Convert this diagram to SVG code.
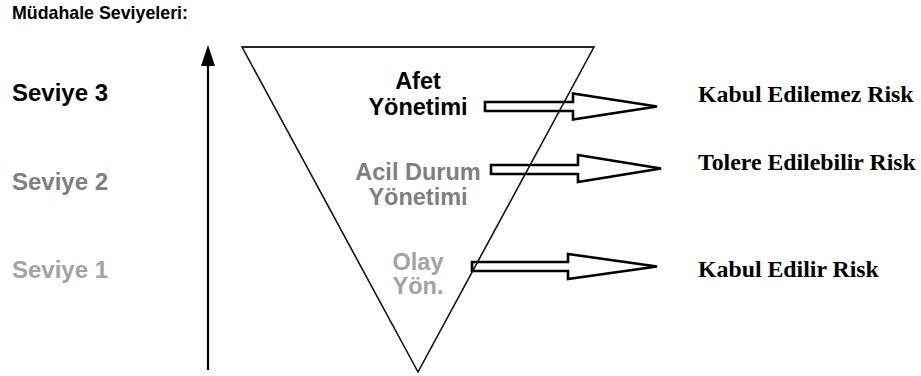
<svg xmlns="http://www.w3.org/2000/svg" width="921" height="376" viewBox="0 0 921 376">
<style>
.sans{font-family:"Liberation Sans",Arial,sans-serif;font-weight:bold}
.serif{font-family:"Liberation Serif","Times New Roman",serif;font-weight:bold;font-size:23.8px;fill:#000}
.lvl{font-size:24px}
.mid{font-size:23.5px;text-anchor:middle}
.c3{fill:#000}
.c2{fill:#7f7f7f}
.c1{fill:#a3a3a3}
.block{fill:none;stroke:#000;stroke-width:2.6;stroke-linejoin:miter}
.tri{fill:#fff;stroke:#1a1a1a;stroke-width:1.3}
</style>
<rect width="921" height="376" fill="#fff"/>
<g id="title"><text class="sans c3" x="12" y="18.5" font-size="17.8">Müdahale Seviyeleri:</text></g>
<g id="triangle"><polygon class="tri" points="242,47 594,47 418,372"/></g>
<g id="levels">
<text class="sans lvl c3" x="12" y="100.5">Seviye 3</text>
<text class="sans lvl c2" x="12" y="190">Seviye 2</text>
<text class="sans lvl c1" x="12" y="278">Seviye 1</text>
</g>
<g id="node-afet"><text class="sans mid c3" x="418" y="88.5">Afet</text><text class="sans mid c3" x="418" y="115">Yönetimi</text></g>
<g id="node-acil"><text class="sans mid c2" x="418" y="179.5">Acil Durum</text><text class="sans mid c2" x="418" y="205">Yönetimi</text></g>
<g id="node-olay"><text class="sans mid c1" x="418" y="270">Olay</text><text class="sans mid c1" x="418" y="294">Yön.</text></g>
<g id="risk-labels">
<text class="serif" x="698" y="102">Kabul Edilemez Risk</text>
<text class="serif" x="698" y="170">Tolere Edilebilir Risk</text>
<text class="serif" x="698" y="277">Kabul Edilir Risk</text>
</g>
<g id="connectors">
<line x1="208" y1="370" x2="208" y2="62" stroke="#000" stroke-width="2.2"/>
<polygon points="208,45 201,66 215,66" fill="#000"/>
<polygon class="block" points="485,102 573,102 573,93.5 657,106.5 573,119.5 573,111 485,111"/>
<polygon class="block" points="491,165 578,165 578,155 661,168.5 578,182 578,174 491,174"/>
<polygon class="block" points="472,262 568,262 568,254 657,266.5 568,279 568,271 472,271"/>
</g>
<polygon points="242,47 594,47 418,372" fill="none" stroke="#1a1a1a" stroke-width="1.3"/>
</svg>
